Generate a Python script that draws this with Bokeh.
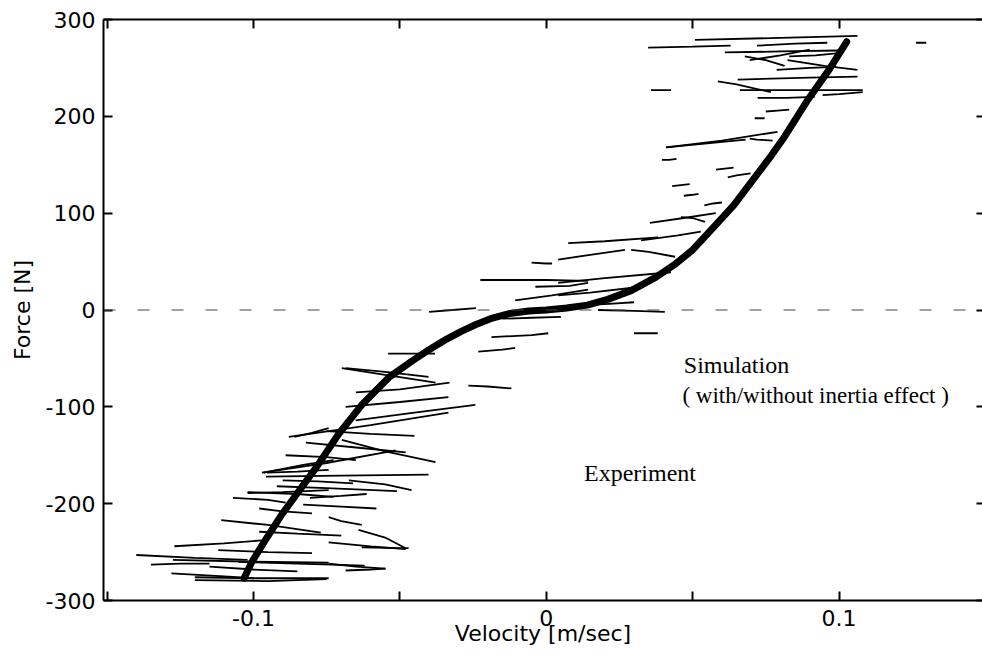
from bokeh.plotting import figure
from bokeh.models import Range1d, FixedTicker, LinearAxis, Span, Label
from bokeh.embed import file_html
from bokeh.resources import INLINE

# ---- data ----
sim_velocity = [-0.1032, -0.1005, -0.096, -0.0905, -0.0852, -0.0784, -0.0709, -0.0627, -0.0535,
                -0.046, -0.040, -0.034, -0.029, -0.024, -0.019, -0.013, -0.006, 0.0, 0.007,
                0.014, 0.021, 0.029, 0.0375, 0.0443, 0.050, 0.0579, 0.064, 0.0695, 0.077,
                0.0814, 0.0889, 0.0968, 0.1026]
sim_force = [-277, -260, -238, -212, -190, -162, -128, -97, -69,
             -53, -41, -30, -22, -15, -9, -4, -1, 0, 2,
             5, 11, 20, 34, 48, 62, 88, 108, 130, 160,
             179, 215, 249, 277]

exp_velocity = [
    [-0.140, -0.120, -0.102], [-0.128, -0.110, -0.0998], [-0.120, -0.095, -0.075],
    [-0.111, -0.095, -0.077], [-0.102, -0.085, -0.0726], [-0.0964, -0.083, -0.0726],
    [-0.127, -0.110, -0.0974], [-0.107, -0.095, -0.089], [-0.0971, -0.075, -0.0514],
    [-0.0879, -0.060, -0.0334], [-0.0821, -0.065, -0.048], [-0.0957, -0.070, -0.0402],
    [-0.092, -0.075, -0.051], [-0.0685, -0.050, -0.0334], [-0.065, -0.050, -0.033],
    [-0.0685, -0.055, -0.0402], [-0.054, -0.047, -0.038], [-0.0651, -0.045, -0.0242],
    [-0.0698, -0.055, -0.0378], [-0.0674, -0.055, -0.046], [-0.0641, -0.055, -0.048],
    [-0.0685, -0.060, -0.0549], [-0.063, -0.050, -0.047], [-0.0266, -0.020, -0.0119],
    [-0.0698, -0.055, -0.0378], [-0.0807, -0.070, -0.0613], [-0.105, -0.085, -0.062],
    [-0.115, -0.100, -0.085], [-0.135, -0.125, -0.115], [-0.098, -0.090, -0.080],
    [-0.089, -0.075, -0.065], [-0.075, -0.060, -0.045],
    [-0.1275, -0.100, -0.0743], [-0.120, -0.100, -0.0743], [-0.102, -0.090, -0.0743],
    [-0.0954, -0.085, -0.0743], [-0.086, -0.080, -0.0743], [-0.0743, -0.070, -0.0630],
    [-0.0743, -0.060, -0.0480], [-0.0743, -0.065, -0.0549], [-0.112, -0.095, -0.080],
    [-0.098, -0.085, -0.070], [-0.083, -0.070, -0.058], [-0.090, -0.078, -0.066],
    [-0.0225, 0.000, 0.0143], [-0.0106, 0.002, 0.0143], [-0.005, 0.000, 0.002],
    [-0.0037, 0.008, 0.0143], [-0.040, -0.032, -0.024], [-0.0187, -0.005, 0.0007],
    [0.0177, 0.030, 0.0405], [0.030, 0.035, 0.0381], [-0.0232, -0.015, -0.0106],
    [0.0409, 0.055, 0.0681], [0.0324, 0.045, 0.0528], [0.0041, 0.020, 0.0426],
    [0.0041, 0.015, 0.0269], [0.029, 0.035, 0.044], [0.046, 0.050, 0.0542],
    [0.0041, 0.015, 0.0324], [0.0075, 0.020, 0.0382], [0.062, 0.065, 0.0698],
    [0.0354, 0.047, 0.0579], [-0.015, -0.005, 0.005], [0.010, 0.020, 0.030],
    [0.0395, 0.042, 0.0445], [0.0470, 0.050, 0.0520], [0.0540, 0.057, 0.0600],
    [0.0430, 0.046, 0.0490], [0.0580, 0.061, 0.0640],
    [0.0348, 0.050, 0.063], [0.0508, 0.080, 0.1063], [0.061, 0.080, 0.0998],
    [0.0678, 0.075, 0.0814], [0.0586, 0.065, 0.0767], [0.0654, 0.090, 0.1063],
    [0.0358, 0.040, 0.0426], [0.0661, 0.080, 0.1081], [0.0409, 0.060, 0.079],
    [0.0824, 0.095, 0.1063], [0.0944, 0.100, 0.1081], [0.1263, 0.128, 0.1298],
    [0.0695, 0.072, 0.0773], [0.0712, 0.073, 0.0746], [0.0722, 0.082, 0.0917],
    [0.0695, 0.080, 0.090], [0.0787, 0.090, 0.0991], [0.0720, 0.085, 0.0960],
    [0.0830, 0.092, 0.0990], [0.0750, 0.079, 0.0830],
]
exp_force = [
    [-253, -256, -258], [-272, -275, -277], [-279, -280, -278],
    [-217, -222, -230], [-188, -190, -193], [-168, -160, -155],
    [-244, -241, -238], [-194, -196, -199], [-168, -158, -145],
    [-131, -119, -106], [-137, -142, -147], [-172, -171, -170],
    [-182, -184, -187], [-100, -95, -90], [-85, -82, -75],
    [-60, -64, -69], [-45, -45, -45], [-114, -106, -98],
    [-134, -146, -157], [-176, -180, -186], [-227, -235, -246],
    [-269, -268, -267], [-245, -246, -246], [-78, -79, -81],
    [-60, -67, -75], [-194, -192, -190], [-260, -262, -264],
    [-265, -268, -270], [-263, -262, -262], [-205, -208, -210],
    [-150, -152, -155], [-125, -128, -130],
    [-258, -260, -261], [-276, -277, -277], [-189, -188, -186],
    [-168, -167, -165], [-131, -127, -122], [-214, -218, -222],
    [-240, -244, -247], [-262, -265, -267], [-248, -250, -251],
    [-229, -231, -233], [-201, -203, -205], [-176, -177, -179],
    [31, 31, 30], [10, 15, 21], [49, 48, 48],
    [24, 25, 28], [-2, 0, 2], [-28, -26, -24],
    [0, -1, -2], [-24, -24, -24], [-43, -41, -39],
    [168, 172, 176], [72, 77, 81], [28, 33, 39],
    [52, 57, 62], [62, 60, 55], [96, 95, 91],
    [15, 18, 24], [69, 71, 75], [137, 139, 141],
    [90, 95, 100], [-9, -8, -7], [5, 6, 8],
    [155, 155, 156], [118, 119, 120], [108, 110, 111],
    [128, 129, 130], [145, 146, 147],
    [271, 272, 273], [279, 281, 283], [266, 267, 268],
    [262, 258, 252], [236, 233, 225], [238, 240, 241],
    [227, 227, 227], [227, 227, 227], [168, 175, 184],
    [258, 252, 248], [222, 223, 225], [276, 276, 276],
    [177, 176, 175], [198, 198, 198], [219, 219, 220],
    [258, 263, 269], [248, 250, 251], [273, 275, 276],
    [262, 263, 265], [205, 206, 207],
]

x_ticks = [-0.1, 0, 0.1]
x_minor_ticks = [-0.15, -0.05, 0.05, 0.15]
x_tick_labels = {-0.1: "-0.1", 0: "0", 0.1: "0.1"}
y_ticks = [-300, -200, -100, 0, 100, 200, 300]
y_tick_labels = {-300: "-300", -200: "-200", -100: "-100", 0: "0",
                 100: "100", 200: "200", 300: "300"}

label_sim_1 = "Simulation"
label_sim_2 = "( with/without inertia effect )"
label_exp = "Experiment"

# ---- figure ----
p = figure(width=982, height=660,
           x_range=Range1d(-0.1512, 0.1490), y_range=Range1d(-300, 300),
           output_backend="svg", toolbar_location=None,
           min_border_left=103, min_border_right=0, min_border_top=19, min_border_bottom=60,
           x_axis_label="Velocity [m/sec]", y_axis_label="Force [N]")
p.grid.visible = False
p.outline_line_color = None
p.background_fill_color = "white"
p.border_fill_color = "white"

FONT = "DejaVu Sans"

xt = FixedTicker(ticks=x_ticks, minor_ticks=x_minor_ticks)
yt = FixedTicker(ticks=y_ticks, minor_ticks=[])

for ax in p.xaxis:
    ax.ticker = xt
    ax.major_label_overrides = x_tick_labels
for ax in p.yaxis:
    ax.ticker = yt
    ax.major_label_overrides = y_tick_labels

for ax in list(p.xaxis) + list(p.yaxis):
    ax.axis_line_width = 2
    ax.axis_line_color = "black"
    ax.major_tick_in = 9
    ax.major_tick_out = 0
    ax.minor_tick_in = 9
    ax.minor_tick_out = 0
    ax.major_tick_line_width = 2
    ax.minor_tick_line_width = 2
    ax.major_label_text_font = FONT
    ax.major_label_text_font_size = "22px"
    ax.major_label_text_color = "black"
    ax.axis_label_text_font = FONT
    ax.axis_label_text_font_size = "22px"
    ax.axis_label_text_font_style = "normal"
    ax.axis_label_text_color = "black"

p.xaxis.major_label_standoff = 9
p.xaxis.axis_label_standoff = -8
p.yaxis.major_label_standoff = 8
p.yaxis.axis_label_standoff = 8

# mirrored tick-only axes on top and right (labels not drawn)
top = LinearAxis(ticker=xt, major_label_text_color=None, major_label_text_font_size="0px",
                 major_label_standoff=0, axis_line_width=2, major_tick_in=9, major_tick_out=0,
                 minor_tick_in=9, minor_tick_out=0, major_tick_line_width=2,
                 minor_tick_line_width=2)
right = LinearAxis(ticker=yt, major_label_text_color=None, major_label_text_font_size="0px",
                   major_label_standoff=0, axis_line_color=None, major_tick_in=6,
                   major_tick_out=0, minor_tick_in=0, minor_tick_out=0,
                   major_tick_line_width=2)
p.add_layout(top, "above")
p.add_layout(right, "right")

# zero line
p.add_layout(Span(location=0, dimension="width", line_color="#444444", line_width=1,
                  line_dash="12 22"))

# experiment traces
p.multi_line(xs=exp_velocity, ys=exp_force, line_color="black", line_width=1.8)

# simulation (with / without inertia effect overlapped)
p.line(sim_velocity, sim_force, line_color="black", line_width=7, line_join="round",
       line_cap="round")

p.add_layout(Label(x=0.047, y=-57, text=label_sim_1, text_font="Liberation Serif",
                   text_font_size="24px", text_baseline="middle", text_color="black"))
p.add_layout(Label(x=0.0465, y=-88, text=label_sim_2, text_font="Liberation Serif",
                   text_font_size="23px", text_baseline="middle", text_color="black"))
p.add_layout(Label(x=0.0129, y=-168, text=label_exp, text_font="Liberation Serif",
                   text_font_size="24px", text_baseline="middle", text_color="black"))

open("out.html", "w").write(file_html(p, INLINE))
